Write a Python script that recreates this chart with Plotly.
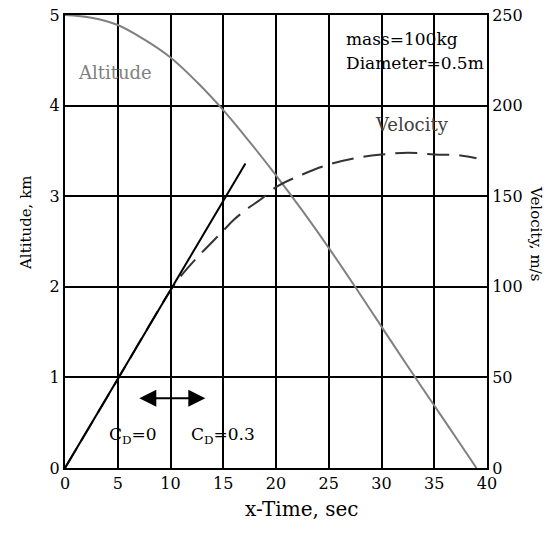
import plotly.graph_objects as go

# ---- data ----
alt_t = [0, 2.5, 5, 7.5, 10, 12.5, 15, 17.5, 20, 22.5, 25, 27.5, 30, 32.5, 35, 37.5, 39]
alt_km = [5.0, 4.97, 4.89, 4.73, 4.53, 4.26, 3.95, 3.60, 3.23, 2.84, 2.43, 2.00, 1.56, 1.12, 0.69, 0.26, 0.0]

vel_t = [0, 5, 10, 11, 12.5, 14, 15, 16, 17.5, 18.5, 20, 22.5, 25, 27.5, 30, 32.5, 35, 37.5, 39]
vel_ms = [0, 49, 98, 106, 116, 125, 131, 137, 144, 148, 155, 162, 167.5, 171, 173, 174, 173, 172.5, 171]

cd0_t = [0, 17.1]
cd0_ms = [0, 168]

x_ticks = [0, 5, 10, 15, 20, 25, 30, 35, 40]
alt_ticks = [0, 1, 2, 3, 4, 5]
vel_ticks = [0, 50, 100, 150, 200, 250]

FONT = "DejaVu Serif"

W, H = 556, 533
L, R, T, B = 65, 69, 15, 65
pw, ph = W - L - R, H - T - B


def px2paper(xp, yp):
    return (xp - L) / pw, (H - yp - B) / ph


fig = go.Figure()
fig.add_trace(go.Scatter(x=alt_t, y=alt_km, mode="lines", line=dict(color="#808080", width=2),
                         line_shape="spline", yaxis="y"))
fig.add_trace(go.Scatter(x=vel_t, y=vel_ms, mode="lines", line=dict(color="#333333", width=2, dash="22px,10px"),
                         line_shape="spline", yaxis="y2"))
fig.add_trace(go.Scatter(x=cd0_t, y=cd0_ms, mode="lines", line=dict(color="black", width=2), yaxis="y2"))

axis_common = dict(showline=True, linecolor="black", linewidth=2, zeroline=False, automargin=False,
                   ticklabeloverflow="allow",
                   tickfont=dict(family=FONT, size=16, color="black"))

fig.update_layout(
    width=W, height=H,
    margin=dict(l=L, r=R, t=T, b=B, pad=0),
    paper_bgcolor="white", plot_bgcolor="white",
    showlegend=False,
    font=dict(family=FONT, color="black"),
    xaxis=dict(range=[0, 40], tickvals=x_ticks, showgrid=True, gridcolor="black", gridwidth=2,
               mirror=True, ticks="", **axis_common),
    yaxis=dict(range=[0, 5], tickvals=alt_ticks, showgrid=True, gridcolor="black", gridwidth=2,
               mirror=True, ticks="", **axis_common),
    yaxis2=dict(range=[0, 250], tickvals=vel_ticks, overlaying="y", side="right", showgrid=False,
                ticks="", **axis_common),
)

ann = []
x, y = px2paper(15, 223)
ann.append(dict(text="Altitude, km", x=x, y=y, xref="paper", yref="paper", showarrow=False,
                textangle=-90, font=dict(family=FONT, size=15, color="black")))
x, y = px2paper(302, 523)
ann.append(dict(text="x-Time, sec", x=x, y=y, xref="paper", yref="paper", showarrow=False,
                font=dict(family=FONT, size=20, color="black")))
x, y = px2paper(547, 233)
ann.append(dict(text="Velocity, m/s", x=x, y=y, xref="paper", yref="paper", showarrow=False,
                textangle=90, font=dict(family=FONT, size=15, color="black")))

# in-plot labels (data coords)
ann.append(dict(text="Altitude", x=4.75, y=4.37, xref="x", yref="y", showarrow=False,
                font=dict(family=FONT, size=18, color="#808080")))
ann.append(dict(text="Velocity", x=32.9, y=3.79, xref="x", yref="y", showarrow=False,
                font=dict(family=FONT, size=18, color="#404040")))
ann.append(dict(text="mass=100kg", x=26.4, y=4.73, xref="x", yref="y", showarrow=False, xanchor="left",
                font=dict(family=FONT, size=17, color="black")))
ann.append(dict(text="Diameter=0.5m", x=26.4, y=4.47, xref="x", yref="y", showarrow=False, xanchor="left",
                font=dict(family=FONT, size=17, color="black")))
ann.append(dict(text="C<sub>D</sub>=0", x=6.4, y=0.36, xref="x", yref="y", showarrow=False,
                font=dict(family=FONT, size=17, color="black")))
ann.append(dict(text="C<sub>D</sub>=0.3", x=15.0, y=0.36, xref="x", yref="y", showarrow=False,
                font=dict(family=FONT, size=17, color="black")))
# double-headed arrow
ann.append(dict(x=13.3, y=0.77, ax=6.9, ay=0.77, xref="x", yref="y", axref="x", ayref="y",
                showarrow=True, arrowhead=2, startarrowhead=2, arrowside="end+start",
                arrowsize=1.7, startarrowsize=1.7, arrowwidth=2, arrowcolor="black", text=""))
fig.update_layout(annotations=ann)

fig.write_html("out.html", config={"displayModeBar": False},
               post_script="document.body.style.margin='0px';")
